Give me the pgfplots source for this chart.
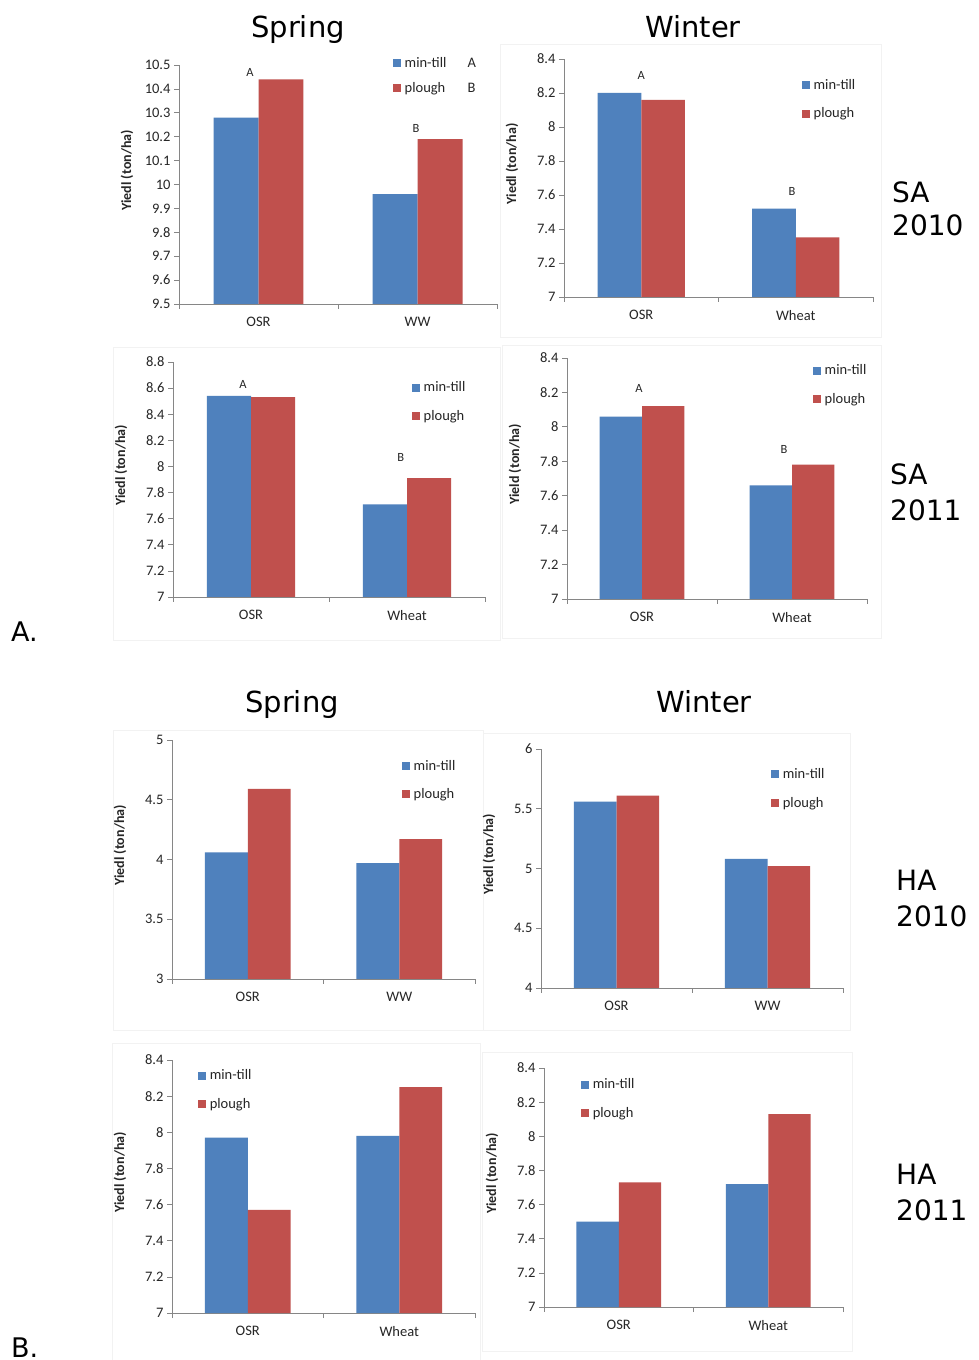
\documentclass[border=0pt]{standalone}
\usepackage{fontspec}
\setmainfont{Carlito}
\newfontfamily\dejavu{DejaVu Sans}
\usepackage{pgfplots}
\pgfplotsset{compat=1.18}
\definecolor{barblue}{HTML}{4F81BD}
\definecolor{barred}{HTML}{C0504D}
\definecolor{axisgray}{HTML}{868686}
\definecolor{labelcol}{HTML}{262626}
\definecolor{framecol}{HTML}{F2F2F2}
\newcommand{\tf}{\fontsize{14.5}{16}\selectfont}
\newcommand{\lf}{\fontsize{12.5}{14}\selectfont}

\pgfplotsset{
  panel/.style={
    scale only axis, ybar=0pt, bar width=0.283,
    xmin=-0.5, xmax=1.5,
    axis x line=bottom, axis y line=left,
    axis line style={-, draw=axisgray, line width=0.7pt},
    tick align=outside, major tick length=5pt,
    tick style={draw=axisgray, line width=0.7pt},
    xtick={-0.5,0.5,1.5}, xticklabels={},
    extra x ticks={0,1},
    extra x tick style={tick style={draw=none}},
    ticklabel style={font=\tf, text=labelcol},
    x tick label style={yshift=-5pt},
    /pgf/number format/assume math mode=true,
    /pgf/number format/fixed,
    every axis y label/.style={at={(axis description cs:0,0.5)}, xshift=-52pt, yshift=14pt, rotate=90, anchor=center, font=\bfseries\fontsize{14}{16}\selectfont, text=labelcol},
    ylabel={Yiedl (ton/ha)},
    legend style={draw=none, fill=none, inner sep=0pt, anchor=north west, font=\tf, text=labelcol, row sep=14pt, column sep=2pt, nodes={inner sep=1.5pt}},
    legend cell align=left,
  },
  sqlegend/.style={legend image code/.code={\fill[##1] (0pt,-4pt) rectangle (8pt,4pt);}},
  bluebar/.style={fill=barblue, draw=none, bar shift=-0.1415, sqlegend},
  redbar/.style={fill=barred, draw=none, bar shift=0.1415, sqlegend},
}

\begin{document}
\begin{tikzpicture}[x=1pt, y=1pt]
\path[use as bounding box] (0,0) rectangle (978,1360);
\fill[white] (0,0) rectangle (978,1360);

% faint chart-area frames
\draw[framecol, line width=0.8pt] (500,1316) rectangle (881,1023);
\draw[framecol, line width=0.8pt] (502,1015) rectangle (881,722);
\draw[framecol, line width=0.8pt] (113,1013) rectangle (500,720);
\draw[framecol, line width=0.8pt] (483,627) rectangle (850,330);
\draw[framecol, line width=0.8pt] (113,630) rectangle (483,330);
\draw[framecol, line width=0.8pt] (112,317) rectangle (480,0);
\draw[framecol, line width=0.8pt] (482,308) rectangle (852,9);

% titles
\node[font=\dejavu\fontsize{29}{34}\selectfont, anchor=base] at (298,1322) {Spring};
\node[font=\dejavu\fontsize{29}{34}\selectfont, anchor=base] at (693,1322) {Winter};
\node[font=\dejavu\fontsize{29}{34}\selectfont, anchor=base] at (292,647) {Spring};
\node[font=\dejavu\fontsize{29}{34}\selectfont, anchor=base] at (704,647) {Winter};
\node[font=\dejavu\fontsize{27}{32}\selectfont, anchor=base west, inner sep=0pt] at (11,718) {A.};
\node[font=\dejavu\fontsize{27}{32}\selectfont, anchor=base west, inner sep=0pt] at (11,2) {B.};

% side labels
\node[font=\dejavu\fontsize{28}{33}\selectfont, anchor=base west, inner sep=0pt] at (892,1157) {SA};
\node[font=\dejavu\fontsize{28}{33}\selectfont, anchor=base west, inner sep=0pt] at (892,1124) {2010};
\node[font=\dejavu\fontsize{28}{33}\selectfont, anchor=base west, inner sep=0pt] at (890,875) {SA};
\node[font=\dejavu\fontsize{28}{33}\selectfont, anchor=base west, inner sep=0pt] at (890,839) {2011};
\node[font=\dejavu\fontsize{28}{33}\selectfont, anchor=base west, inner sep=0pt] at (896,469) {HA};
\node[font=\dejavu\fontsize{28}{33}\selectfont, anchor=base west, inner sep=0pt] at (896,433) {2010};
\node[font=\dejavu\fontsize{28}{33}\selectfont, anchor=base west, inner sep=0pt] at (896,175) {HA};
\node[font=\dejavu\fontsize{28}{33}\selectfont, anchor=base west, inner sep=0pt] at (896,139) {2011};

% ---- Panel 1: SA 2010 Spring
\begin{axis}[panel, at={(179pt,1056pt)}, anchor=south west, width=318pt, height=239pt,
  ymin=9.5, ymax=10.5, ytick={9.5,9.6,9.7,9.8,9.9,10,10.1,10.2,10.3,10.4,10.5},
  extra x tick labels={OSR,WW},
  legend style={at={(0.673,1.04)}, row sep=11pt}]
\addplot[bluebar] coordinates {(0,10.28) (1,9.96)};
\addplot[redbar] coordinates {(0,10.44) (1,10.19)};
\addlegendentry{\makebox[63pt][l]{min-till}A}
\addlegendentry{\makebox[63pt][l]{plough}B}
\node[font=\lf, text=labelcol] at (axis cs:-0.053,10.47) {A};
\node[font=\lf, text=labelcol] at (axis cs:0.99,10.236) {B};
\end{axis}

% ---- Panel 2: SA 2010 Winter
\begin{axis}[panel, at={(564pt,1063pt)}, anchor=south west, width=309pt, height=238pt,
  ymin=7, ymax=8.4, ytick={7,7.2,7.4,7.6,7.8,8,8.2,8.4},
  extra x tick labels={OSR,Wheat},
  legend style={at={(0.770,0.922)}}]
\addplot[bluebar] coordinates {(0,8.20) (1,7.52)};
\addplot[redbar] coordinates {(0,8.16) (1,7.35)};
\addlegendentry{min-till}
\addlegendentry{plough}
\node[font=\lf, text=labelcol] at (axis cs:0,8.30) {A};
\node[font=\lf, text=labelcol] at (axis cs:0.976,7.62) {B};
\end{axis}

% ---- Panel 3: SA 2011 Spring
\begin{axis}[panel, at={(173pt,763pt)}, anchor=south west, width=312pt, height=235pt,
  ymin=7, ymax=8.8, ytick={7,7.2,7.4,7.6,7.8,8,8.2,8.4,8.6,8.8},
  extra x tick labels={OSR,Wheat},
  legend style={at={(0.766,0.923)}}]
\addplot[bluebar] coordinates {(0,8.54) (1,7.71)};
\addplot[redbar] coordinates {(0,8.53) (1,7.91)};
\addlegendentry{min-till}
\addlegendentry{plough}
\node[font=\lf, text=labelcol] at (axis cs:-0.051,8.63) {A};
\node[font=\lf, text=labelcol] at (axis cs:0.96,8.065) {B};
\end{axis}

% ---- Panel 4: SA 2011 Winter
\begin{axis}[panel, at={(567pt,761pt)}, anchor=south west, width=300pt, height=241pt,
  ymin=7, ymax=8.4, ytick={7,7.2,7.4,7.6,7.8,8,8.2,8.4},
  extra x tick labels={OSR,Wheat}, ylabel={Yield (ton/ha)},
  legend style={at={(0.82,0.979)}}]
\addplot[bluebar] coordinates {(0,8.06) (1,7.66)};
\addplot[redbar] coordinates {(0,8.12) (1,7.78)};
\addlegendentry{min-till}
\addlegendentry{plough}
\node[font=\lf, text=labelcol] at (axis cs:-0.02,8.22) {A};
\node[font=\lf, text=labelcol] at (axis cs:0.947,7.87) {B};
\end{axis}

% ---- Panel 5: HA 2010 Spring
\begin{axis}[panel, at={(172pt,381pt)}, anchor=south west, width=303pt, height=239pt,
  ymin=3, ymax=5, ytick={3,3.5,4,4.5,5},
  extra x tick labels={OSR,WW},
  legend style={at={(0.759,0.923)}}]
\addplot[bluebar] coordinates {(0,4.06) (1,3.97)};
\addplot[redbar] coordinates {(0,4.59) (1,4.17)};
\addlegendentry{min-till}
\addlegendentry{plough}
\end{axis}

% ---- Panel 6: HA 2010 Winter
\begin{axis}[panel, at={(541pt,372pt)}, anchor=south west, width=302pt, height=239pt,
  ymin=4, ymax=6, ytick={4,4.5,5,5.5,6},
  extra x tick labels={OSR,WW},
  legend style={at={(0.762,0.925)}}]
\addplot[bluebar] coordinates {(0,5.56) (1,5.08)};
\addplot[redbar] coordinates {(0,5.61) (1,5.02)};
\addlegendentry{min-till}
\addlegendentry{plough}
\end{axis}

% ---- Panel 7: HA 2011 Spring
\begin{axis}[panel, at={(172pt,47pt)}, anchor=south west, width=303pt, height=253pt,
  ymin=7, ymax=8.4, ytick={7,7.2,7.4,7.6,7.8,8,8.2,8.4},
  extra x tick labels={OSR,Wheat},
  legend style={at={(0.086,0.968)}}]
\addplot[bluebar] coordinates {(0,7.97) (1,7.98)};
\addplot[redbar] coordinates {(0,7.57) (1,8.25)};
\addlegendentry{min-till}
\addlegendentry{plough}
\end{axis}

% ---- Panel 8: HA 2011 Winter
\begin{axis}[panel, at={(544pt,53pt)}, anchor=south west, width=299pt, height=239pt,
  ymin=7, ymax=8.4, ytick={7,7.2,7.4,7.6,7.8,8,8.2,8.4},
  extra x tick labels={OSR,Wheat},
  legend style={at={(0.124,0.962)}}]
\addplot[bluebar] coordinates {(0,7.50) (1,7.72)};
\addplot[redbar] coordinates {(0,7.73) (1,8.13)};
\addlegendentry{min-till}
\addlegendentry{plough}
\end{axis}
\end{tikzpicture}
\end{document}
